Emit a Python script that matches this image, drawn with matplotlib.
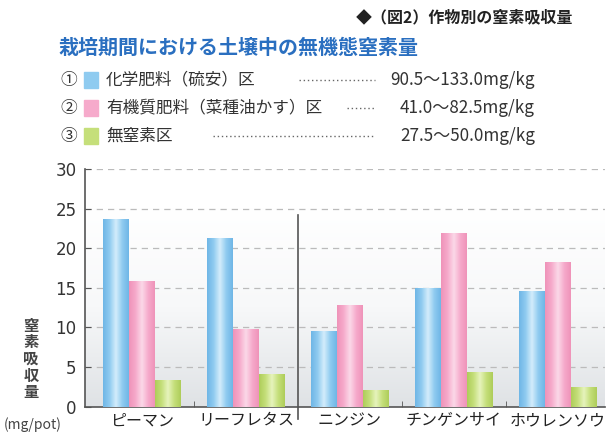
import numpy as np
import matplotlib
matplotlib.use("Agg")
from matplotlib import pyplot as plt
from matplotlib.colors import LinearSegmentedColormap

plt.rcParams['font.family'] = ['Noto Sans CJK JP', 'DejaVu Sans']

# データ
sakumotsu = ["ピーマン", "リーフレタス", "ニンジン", "チンゲンサイ", "ホウレンソウ"]
kagaku = [23.7, 21.3, 9.6, 15.0, 14.6]
yuki = [15.9, 9.8, 12.8, 21.9, 18.3]
mutisso = [3.4, 4.1, 2.1, 4.35, 2.45]
yticks = [0, 5, 10, 15, 20, 25, 30]

hanrei = ["化学肥料（硫安）区", "有機質肥料（菜種油かす）区", "無窒素区"]
hanrei_val = ["90.5～133.0mg/kg", "41.0～82.5mg/kg", "27.5～50.0mg/kg"]
maru = ["①", "②", "③"]

iro = ["#8fcbf0", "#f6aacb", "#c5df7a"]
iro_dark = ["#6fb6e6", "#ef93b9", "#aecd5a"]
iro_light = ["#d4edfb", "#fbd9e8", "#e6f3bd"]

fig = plt.figure(figsize=(6.08, 4.34), dpi=100)
ax = fig.add_axes([0.1398, 0.0629, 0.855, 0.5477])

x = np.arange(len(sakumotsu))
w = 0.25

# 背景のグラデーション
bg = LinearSegmentedColormap.from_list("bg", ["#dfe2e5", "#f7f8f9", "#ffffff"])
grad = np.linspace(0, 1, 256).reshape(-1, 1)
ax.imshow(grad, cmap=bg, aspect="auto", extent=[-0.548, 4.452, 0, 25],
          origin="lower", zorder=0)

for i, (vals, c) in enumerate(zip([kagaku, yuki, mutisso], iro)):
    bars = ax.bar(x + (i - 1) * w, vals, w, color=c, zorder=2, linewidth=0)
    cm = LinearSegmentedColormap.from_list("b%d" % i, [iro_dark[i], c, iro_light[i], c, iro_dark[i]])
    hg = np.linspace(0, 1, 64).reshape(1, -1)
    for b in bars:
        im = ax.imshow(hg, cmap=cm, aspect="auto", zorder=3,
                       extent=[b.get_x(), b.get_x() + b.get_width(), 0, b.get_height()])
        im.set_clip_path(b)

ax.set_xlim(-0.548, 4.452)
ax.set_ylim(0, 30)
for yv in yticks[1:]:
    ax.axhline(yv, color="#bbbbbb", lw=0.9, ls=(0, (5, 4)), zorder=1)
ax.plot([1.5, 1.5], [0, 24.2], color="#555555", lw=1.2, zorder=4, clip_on=False)
ax.plot([1.5, 1.5], [-1.6, 0], color="#555555", lw=1.2, zorder=4, clip_on=False)

ax.set_yticks(yticks)
ax.set_yticklabels([str(v) for v in yticks], fontsize=12, color="#333333", family="DejaVu Sans")
ax.set_xticks(x)
ax.set_xticklabels(sakumotsu, fontsize=11.5, color="#222222")
ax.set_xticks([0.5, 2.5, 3.5], minor=True)
ax.tick_params(axis="x", which="major", length=0, pad=4)
ax.tick_params(axis="x", which="minor", length=4, direction="in", color="#555555")
ax.tick_params(axis="y", length=4, direction="in", color="#555555", pad=6)
for s in ["top", "right"]:
    ax.spines[s].set_visible(False)
ax.spines["left"].set_color("#555555")
ax.spines["bottom"].set_color("#555555")
ax.spines["left"].set_linewidth(1.2)
ax.spines["bottom"].set_linewidth(1.2)

# 縦書きの軸ラベル
for k, ch in enumerate("窒素吸収量"):
    fig.text(31 / 608, 1 - (326 + k * 16.5) / 434, ch, fontsize=11, color="#444444",
             ha="center", va="center", fontweight="bold")
fig.text(33 / 608, 1 - 425 / 434, "(mg/pot)", fontsize=10, color="#444444",
         ha="center", va="center")

# タイトル
fig.text(573 / 608, 1 - 17 / 434, "◆（図2）作物別の窒素吸収量", fontsize=11.5,
         ha="right", va="center", color="#222222", fontweight="bold",
         family=['Noto Sans CJK JP', 'DejaVu Sans'])
fig.text(58 / 608, 1 - 47 / 434, "栽培期間における土壌中の無機態窒素量", fontsize=14.4,
         ha="left", va="center", color="#2a6fc0", fontweight="bold")

# 凡例
lead_start = [299, 347, 213]
for k in range(3):
    yy = 1 - (80 + k * 28) / 434
    fig.text(60 / 608, yy, maru[k], fontsize=12, ha="left", va="center", color="#333333")
    fig.patches.append(plt.Rectangle((84 / 608, yy - 8 / 434), 14 / 608, 16 / 434,
                                     transform=fig.transFigure, color=iro[k], figure=fig))
    fig.text(106 / 608, yy, hanrei[k], fontsize=12, ha="left", va="center", color="#333333")
    fig.text(535 / 608, yy, hanrei_val[k], fontsize=12.3, ha="right", va="center", color="#333333")
    fig.lines.append(plt.Line2D([lead_start[k] / 608, 375 / 608], [yy, yy], transform=fig.transFigure,
                                color="#666666", lw=1.0, ls=(0, (1, 2))))

fig.savefig("out.png", dpi=100)
